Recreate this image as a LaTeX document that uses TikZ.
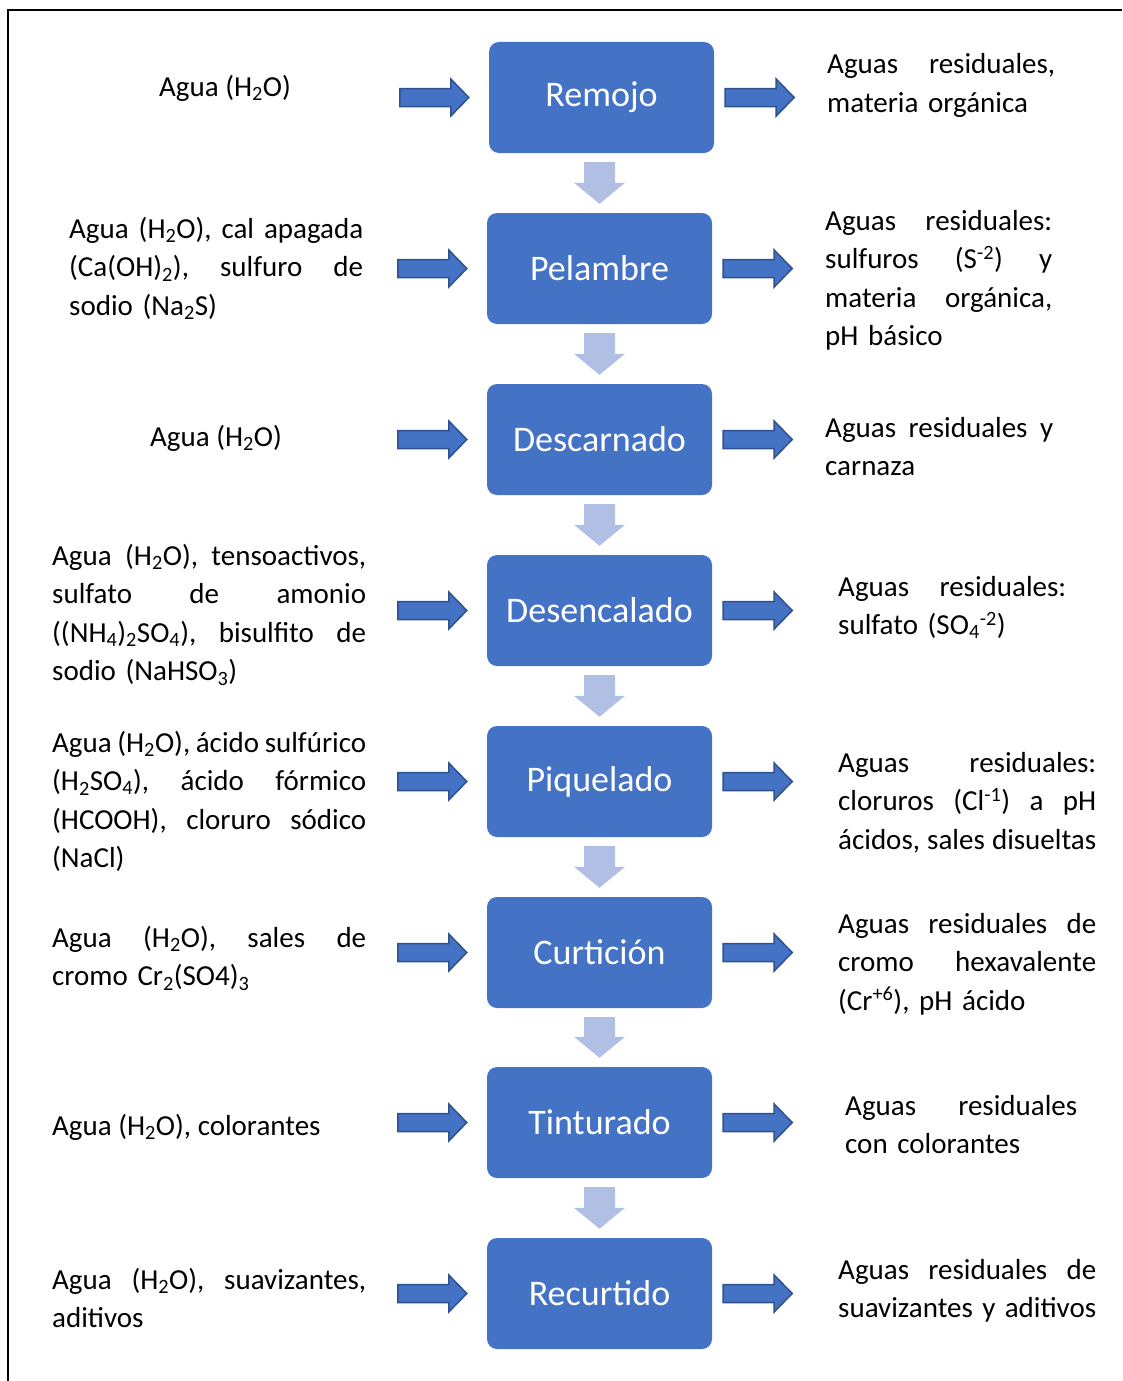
\documentclass[tikz,border=0pt]{standalone}
\usepackage{fontspec}
\setmainfont{Carlito}
\usetikzlibrary{calc}
\definecolor{boxblue}{HTML}{4472C4}
\definecolor{arrowedge}{HTML}{2F528F}
\definecolor{downblue}{HTML}{B0BFE3}
\newlength{\jw}
\newcommand{\jl}[1]{\leavevmode\hbox to \jw{\frenchspacing\spaceskip=\fontdimen2\font plus 1fil minus 0.15em\xspaceskip=\spaceskip #1}}
\newcommand{\nl}[1]{\leavevmode\hbox{#1}}
\newcommand{\sbs}[1]{\textsubscript{#1}}
\newcommand{\sps}[1]{\textsuperscript{#1}}
\newcommand{\inarrow}[1]{%
  \filldraw[sidearr] let \p1=(#1.west) in
    (\x1-89pt,\y1+9pt) -- (\x1-38pt,\y1+9pt) -- (\x1-38pt,\y1+18.5pt) --
    (\x1-20pt,\y1) -- (\x1-38pt,\y1-18.5pt) -- (\x1-38pt,\y1-9pt) --
    (\x1-89pt,\y1-9pt) -- cycle;}
\newcommand{\outarrow}[1]{%
  \filldraw[sidearr] let \p1=(#1.east) in
    (\x1+11pt,\y1+9pt) -- (\x1+62pt,\y1+9pt) -- (\x1+62pt,\y1+18.5pt) --
    (\x1+80pt,\y1) -- (\x1+62pt,\y1-18.5pt) -- (\x1+62pt,\y1-9pt) --
    (\x1+11pt,\y1-9pt) -- cycle;}
\newcommand{\steparrow}[2]{%
  \fill[downblue] let \p1=(#1.south), \p2=(#2.north) in
    (\x2-15.5pt,\y1-9pt) -- (\x2+15.5pt,\y1-9pt) -- (\x2+15.5pt,\y2+30pt) --
    (\x2+25.5pt,\y2+30pt) -- (\x2,\y2+9pt) -- (\x2-25.5pt,\y2+30pt) --
    (\x2-15.5pt,\y2+30pt) -- cycle;}
\begin{document}
\begin{tikzpicture}[x=1pt,y=-1pt,
  stage/.style={fill=boxblue, rounded corners=10pt, minimum width=225pt,
    minimum height=111pt, text=white, font=\fontsize{36}{40}\selectfont, inner sep=0pt},
  txt/.style={inner sep=0pt, anchor=base west, align=left,
    font=\fontsize{29}{38.5}\selectfont},
  para/.style={txt, text width=#1, execute at begin node={\setlength{\jw}{#1}}}]
\tikzset{sidearr/.style={fill=boxblue, draw=arrowedge, line width=1.5pt, line join=miter}}
\useasboundingbox (0,0) rectangle (1122,1381);
\draw[line width=2.5pt] (1122,10) -- (8,10) -- (8,1381);

% process stages
\node[stage] (b1) at (601.5,97.5) {Remojo};
\node[stage] (b2) at (599.5,268.5) {Pelambre};
\node[stage] (b3) at (599.5,439.5) {Descarnado};
\node[stage] (b4) at (599.5,610.5) {Desencalado};
\node[stage] (b5) at (599.5,781.5) {Piquelado};
\node[stage] (b6) at (599.5,952.5) {Curtición};
\node[stage] (b7) at (599.5,1122.5) {Tinturado};
\node[stage] (b8) at (599.5,1293.5) {Recurtido};

% inputs
\node[txt] (L1) at (159,96) {Agua (H\sbs{2}O)};
\node[para=294pt] (L2) at (69,238) {\jl{Agua (H\sbs{2}O), cal apagada}\\\jl{(Ca(OH)\sbs{2}), sulfuro de}\\\nl{sodio (Na\sbs{2}S)}};
\node[txt] (L3) at (150,446) {Agua (H\sbs{2}O)};
\node[para=314pt] (L4) at (52,565) {\jl{Agua (H\sbs{2}O), tensoactivos,}\\\jl{sulfato de amonio}\\\jl{((NH\sbs{4})\sbs{2}SO\sbs{4}), bisulfito de}\\\nl{sodio (NaHSO\sbs{3})}};
\node[para=314pt] (L5) at (52,752) {\jl{Agua (H\sbs{2}O), ácido sulfúrico}\\\jl{(H\sbs{2}SO\sbs{4}), ácido fórmico}\\\jl{(HCOOH), cloruro sódico}\\\nl{(NaCl)}};
\node[para=314pt] (L6) at (52,947) {\jl{Agua (H\sbs{2}O), sales de}\\\nl{cromo Cr\sbs{2}(SO4)\sbs{3}}};
\node[txt] (L7) at (52,1135) {Agua (H\sbs{2}O), colorantes};
\node[para=314pt] (L8) at (52,1289) {\jl{Agua (H\sbs{2}O), suavizantes,}\\\nl{aditivos}};

% outputs
\node[para=228pt] (R1) at (827,74) {\jl{Aguas residuales,}\\\nl{materia orgánica}};
\node[para=227pt] (R2) at (825,230) {\jl{Aguas residuales:}\\\jl{sulfuros (S\sps{-2}) y}\\\jl{materia orgánica,}\\\nl{pH básico}};
\node[para=228pt] (R3) at (825,437) {\jl{Aguas residuales y}\\\nl{carnaza}};
\node[para=228pt] (R4) at (838,596) {\jl{Aguas residuales:}\\\nl{sulfato (SO\sbs{4}\sps{-2})}};
\node[para=258pt] (R5) at (838,772) {\jl{Aguas residuales:}\\\jl{cloruros (Cl\sps{-1}) a pH}\\\jl{ácidos, sales disueltas}};
\node[para=258pt] (R6) at (838,933) {\jl{Aguas residuales de}\\\jl{cromo hexavalente}\\\nl{(Cr\sps{+6}), pH ácido}};
\node[para=232pt] (R7) at (845,1115) {\jl{Aguas residuales}\\\nl{con colorantes}};
\node[para=258pt] (R8) at (838,1279) {\jl{Aguas residuales de}\\\jl{suavizantes y aditivos}};

% arrows
\foreach \b in {b1,b2,b3,b4,b5,b6,b7,b8}{\inarrow{\b}\outarrow{\b}}
\steparrow{b1}{b2}
\steparrow{b2}{b3}
\steparrow{b3}{b4}
\steparrow{b4}{b5}
\steparrow{b5}{b6}
\steparrow{b6}{b7}
\steparrow{b7}{b8}
\end{tikzpicture}
\end{document}
